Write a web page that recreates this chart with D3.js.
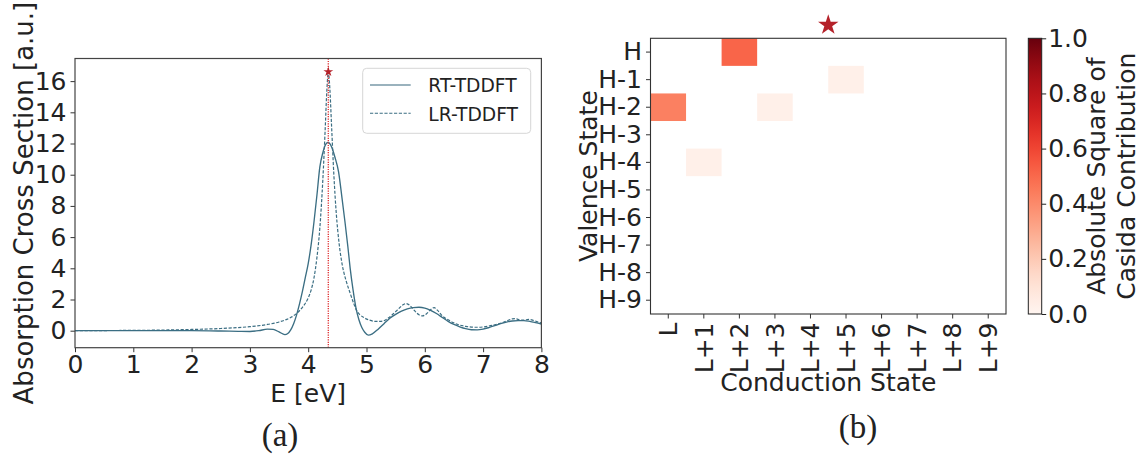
<!DOCTYPE html>
<html>
<head>
<meta charset="utf-8">
<script src="https://cdn.jsdelivr.net/npm/d3@7"></script>
<style>
  html, body { margin: 0; padding: 0; background: #fff; }
  svg { display: block; }
  text { font-family: "DejaVu Sans", sans-serif; fill: #222; }
</style>
</head>
<body>
<svg id="fig" width="1145" height="457"></svg>
<script>
// ---- Panel (a): absorption spectra ----
const rtEnergy = [0, 0.5, 1.0, 1.5, 2.0, 2.5, 2.8, 3.0, 3.15, 3.3, 3.4, 3.5, 3.6, 3.65, 3.7, 3.75, 3.8, 3.85, 3.9, 3.95,
  4.0, 4.05, 4.1, 4.15, 4.2, 4.25, 4.3, 4.34, 4.38, 4.42, 4.46, 4.52, 4.58, 4.63, 4.68, 4.72, 4.77, 4.82, 4.87, 4.92,
  4.97, 5.03, 5.1, 5.2, 5.3, 5.4, 5.5, 5.6, 5.7, 5.8, 5.9, 6.0, 6.1, 6.2, 6.3, 6.4, 6.5, 6.6, 6.7, 6.8,
  6.9, 7.0, 7.1, 7.2, 7.3, 7.4, 7.5, 7.6, 7.7, 7.8, 7.9, 8.0];
const rtCross = [0, 0, 0, 0, 0, -0.02, -0.04, -0.05, 0.0, 0.1, 0.08, -0.08, -0.25, -0.18, 0.05, 0.45, 1.0, 1.7, 2.5, 3.4,
  4.3, 5.5, 7.0, 8.7, 10.5, 11.4, 11.95, 12.07, 11.95, 11.6, 11.1, 10.2, 8.5, 7.0, 5.4, 4.0, 2.6, 1.45, 0.7, 0.2,
  -0.1, -0.28, -0.2, 0.1, 0.45, 0.8, 1.05, 1.25, 1.4, 1.48, 1.5, 1.45, 1.3, 1.1, 0.85, 0.6, 0.4, 0.25, 0.13, 0.06,
  0.05, 0.1, 0.2, 0.32, 0.45, 0.55, 0.62, 0.65, 0.65, 0.6, 0.52, 0.43];

const lrEnergy = [0, 0.5, 1.0, 1.5, 2.0, 2.5, 3.0, 3.3, 3.5, 3.7, 3.8, 3.9, 4.0, 4.05, 4.1, 4.15, 4.2, 4.25, 4.29, 4.32,
  4.345, 4.37, 4.4, 4.44, 4.48, 4.53, 4.58, 4.65, 4.72, 4.78, 4.83, 4.88, 4.95, 5.05, 5.15, 5.25, 5.35, 5.45, 5.55, 5.62,
  5.68, 5.75, 5.82, 5.9, 5.96, 6.03, 6.1, 6.16, 6.22, 6.3, 6.4, 6.5, 6.6, 6.7, 6.8, 6.9, 7.0, 7.1, 7.2, 7.3,
  7.4, 7.5, 7.55, 7.62, 7.7, 7.78, 7.85, 7.92, 8.0];
const lrCross = [0, 0.01, 0.02, 0.04, 0.08, 0.14, 0.26, 0.4, 0.56, 0.85, 1.1, 1.5, 2.1, 2.6, 3.4, 4.7, 6.6, 9.6, 12.8, 15.4,
  16.6, 15.6, 13.2, 10.0, 7.6, 5.6, 4.3, 3.2, 2.4, 1.75, 1.3, 1.05, 0.85, 0.68, 0.6, 0.6, 0.75, 1.05, 1.4, 1.65,
  1.74, 1.6, 1.3, 1.02, 0.95, 1.08, 1.35, 1.48, 1.3, 0.95, 0.7, 0.5, 0.36, 0.28, 0.23, 0.22, 0.24, 0.3, 0.38, 0.48,
  0.62, 0.76, 0.78, 0.7, 0.68, 0.72, 0.68, 0.58, 0.5];

const peakEnergy = 4.345;
const peakCross = 16.6;
const energyTicks = [0, 1, 2, 3, 4, 5, 6, 7, 8];
const crossTicks = [0, 2, 4, 6, 8, 10, 12, 14, 16];
const seriesNames = ["RT-TDDFT", "LR-TDDFT"];

// ---- Panel (b): Casida transition weights ----
const valenceStates = ["H", "H-1", "H-2", "H-3", "H-4", "H-5", "H-6", "H-7", "H-8", "H-9"];
const conductionStates = ["L", "L+1", "L+2", "L+3", "L+4", "L+5", "L+6", "L+7", "L+8", "L+9"];
// rows: valence state, columns: conduction state
const casidaWeights = [
  [0, 0, 0.51, 0, 0, 0, 0, 0, 0, 0],
  [0, 0, 0, 0, 0, 0.03, 0, 0, 0, 0],
  [0.43, 0, 0, 0.03, 0, 0, 0, 0, 0, 0],
  [0, 0, 0, 0, 0, 0, 0, 0, 0, 0],
  [0, 0.03, 0, 0, 0, 0, 0, 0, 0, 0],
  [0, 0, 0, 0, 0, 0, 0, 0, 0, 0],
  [0, 0, 0, 0, 0, 0, 0, 0, 0, 0],
  [0, 0, 0, 0, 0, 0, 0, 0, 0, 0],
  [0, 0, 0, 0, 0, 0, 0, 0, 0, 0],
  [0, 0, 0, 0, 0, 0, 0, 0, 0, 0]
];
const markerColumn = 4.5;   // star position in column index units
const markerRow = -1;       // one row above the top of the map
const colorTicks = [0, 0.2, 0.4, 0.6, 0.8, 1.0];

const svg = d3.select("#fig");
const FONT = 25;
const lineColor = "#3b6e83";
const starColor = "#b5222a";

// ================= Panel (a) =================
const A = { left: 75, right: 541.4, top: 58.5, bottom: 347.7 };
const x = d3.scaleLinear([0, 8], [A.left, A.right]);
const y = d3.scaleLinear([-1.09, 17.45], [A.bottom, A.top]);

const gA = svg.append("g");
gA.append("clipPath").attr("id", "clipA").append("rect")
  .attr("x", A.left).attr("y", A.top).attr("width", A.right - A.left).attr("height", A.bottom - A.top);

const line = d3.line().x(d => x(d[0])).y(d => y(d[1])).curve(d3.curveMonotoneX);
const rtData = rtEnergy.map((e, i) => [e, rtCross[i]]);
const lrData = lrEnergy.map((e, i) => [e, lrCross[i]]);

const plot = gA.append("g").attr("clip-path", "url(#clipA)");
plot.append("path").datum(rtData).attr("d", line)
  .attr("fill", "none").attr("stroke", lineColor).attr("stroke-width", 1.35);
plot.append("path").datum(lrData).attr("d", line)
  .attr("fill", "none").attr("stroke", lineColor).attr("stroke-width", 1.2)
  .attr("stroke-dasharray", "3.2,1.6");
plot.append("line")
  .attr("x1", x(peakEnergy)).attr("x2", x(peakEnergy))
  .attr("y1", A.top).attr("y2", A.bottom)
  .attr("stroke", "#e0393b").attr("stroke-width", 1.4).attr("stroke-dasharray", "1.2,1.2");
gA.append("path")
  .attr("d", d3.symbol(d3.symbolStar, 30)())
  .attr("transform", `translate(${x(peakEnergy)},${y(peakCross)})`)
  .attr("fill", starColor);

// axes
const xAxisA = d3.axisBottom(x).tickValues(energyTicks).tickFormat(d3.format("d"))
  .tickSize(4.5).tickPadding(3).tickSizeOuter(0);
const yAxisA = d3.axisLeft(y).tickValues(crossTicks).tickFormat(d3.format("d"))
  .tickSize(4.5).tickPadding(4).tickSizeOuter(0);
const gx = gA.append("g").attr("transform", `translate(0,${A.bottom})`).call(xAxisA);
const gy = gA.append("g").attr("transform", `translate(${A.left},0)`).call(yAxisA);
[gx, gy].forEach(g => {
  g.select(".domain").remove();
  g.selectAll(".tick line").attr("stroke", "#333").attr("stroke-width", 1);
  g.selectAll(".tick text").attr("font-size", FONT).attr("font-family", "DejaVu Sans").attr("fill", "#222");
});
gA.append("rect")
  .attr("x", A.left).attr("y", A.top).attr("width", A.right - A.left).attr("height", A.bottom - A.top)
  .attr("fill", "none").attr("stroke", "#444").attr("stroke-width", 1.2);

gA.append("text").text("E [eV]")
  .attr("x", (A.left + A.right) / 2).attr("y", 402)
  .attr("text-anchor", "middle").attr("font-size", FONT);
gA.append("text").text("Absorption Cross Section [a.u.]")
  .attr("transform", `translate(33,${(A.top + A.bottom) / 2}) rotate(-90)`)
  .attr("text-anchor", "middle").attr("font-size", 26);

// legend
const leg = gA.append("g");
leg.append("rect").attr("x", 362.7).attr("y", 68.3).attr("width", 168).attr("height", 65)
  .attr("rx", 4).attr("fill", "#fff").attr("fill-opacity", 0.8)
  .attr("stroke", "#d6d6d6").attr("stroke-width", 1);
seriesNames.forEach((name, i) => {
  const ly = 85 + i * 28.3;
  leg.append("line").attr("x1", 370).attr("x2", 410.7).attr("y1", ly).attr("y2", ly)
    .attr("stroke", i === 0 ? "#9ab2bd" : lineColor)
    .attr("stroke-width", i === 0 ? 2.2 : 1.1)
    .attr("stroke-dasharray", i === 0 ? null : "3.2,1.6");
  leg.append("text").text(name).attr("x", 428.3).attr("y", ly + 7.2)
    .attr("font-size", 18.7);
});

svg.append("text").text("(a)")
  .attr("x", 280).attr("y", 446)
  .attr("text-anchor", "middle")
  .style("font-family", "'Liberation Serif', 'DejaVu Serif', serif")
  .attr("font-size", 33);

// ================= Panel (b) =================
const B = { left: 650.5, right: 1006, top: 38.3, bottom: 314 };
const xb = d3.scaleBand(conductionStates, [B.left, B.right]);
const yb = d3.scaleBand(valenceStates, [B.top, B.bottom]);
const xIdx = d3.scaleLinear([-0.5, conductionStates.length - 0.5], [B.left, B.right]);
const yIdx = d3.scaleLinear([-0.5, valenceStates.length - 0.5], [B.top, B.bottom]);
const color = d3.scaleSequential(d3.interpolateReds).domain([0, 1]);

const gB = svg.append("g");
const cells = [];
casidaWeights.forEach((row, r) => row.forEach((w, c) => {
  if (w > 0) cells.push({ v: valenceStates[r], c: conductionStates[c], w });
}));
gB.selectAll("rect.cell").data(cells).join("rect").attr("class", "cell")
  .attr("x", d => xb(d.c)).attr("y", d => yb(d.v))
  .attr("width", xb.bandwidth()).attr("height", yb.bandwidth())
  .attr("fill", d => color(d.w));

gB.append("rect")
  .attr("x", B.left).attr("y", B.top).attr("width", B.right - B.left).attr("height", B.bottom - B.top)
  .attr("fill", "none").attr("stroke", "#333").attr("stroke-width", 1.1);

gB.append("path")
  .attr("d", d3.symbol(d3.symbolStar, 130)())
  .attr("transform", `translate(${xIdx(markerColumn)},${yIdx(markerRow) + 0.5})`)
  .attr("fill", starColor);

const xAxisB = d3.axisBottom(xb).tickSize(4.5).tickPadding(4).tickSizeOuter(0);
const yAxisB = d3.axisLeft(yb).tickSize(4.5).tickPadding(4).tickSizeOuter(0);
const gxb = gB.append("g").attr("transform", `translate(0,${B.bottom})`).call(xAxisB);
const gyb = gB.append("g").attr("transform", `translate(${B.left},0)`).call(yAxisB);
[gxb, gyb].forEach(g => {
  g.select(".domain").remove();
  g.selectAll(".tick line").attr("stroke", "#333").attr("stroke-width", 1);
  g.selectAll(".tick text").attr("font-size", FONT).attr("font-family", "DejaVu Sans").attr("fill", "#222");
});
gxb.selectAll(".tick text")
  .attr("transform", "rotate(-90)")
  .attr("x", -8.5).attr("y", 0).attr("dy", "0.35em")
  .attr("text-anchor", "end");

gB.append("text").text("Conduction State")
  .attr("x", (B.left + B.right) / 2).attr("y", 391)
  .attr("text-anchor", "middle").attr("font-size", FONT);
gB.append("text").text("Valence State")
  .attr("transform", `translate(597,${(B.top + B.bottom) / 2}) rotate(-90)`)
  .attr("text-anchor", "middle").attr("font-size", FONT);

// colorbar
const CB = { left: 1028.3, right: 1041.7, top: B.top, bottom: B.bottom };
const defs = svg.append("defs");
const grad = defs.append("linearGradient").attr("id", "redsGrad")
  .attr("x1", 0).attr("y1", 1).attr("x2", 0).attr("y2", 0);
d3.range(0, 1.0001, 0.05).forEach(t => {
  grad.append("stop").attr("offset", t).attr("stop-color", color(t));
});
gB.append("rect").attr("x", CB.left).attr("y", CB.top)
  .attr("width", CB.right - CB.left).attr("height", CB.bottom - CB.top)
  .attr("fill", "url(#redsGrad)").attr("stroke", "#222").attr("stroke-width", 1);
const cbScale = d3.scaleLinear([0, 1], [CB.bottom, CB.top]);
const gcb = gB.append("g").attr("transform", `translate(${CB.right},0)`)
  .call(d3.axisRight(cbScale).tickValues(colorTicks).tickFormat(d3.format(".1f"))
    .tickSize(4.5).tickPadding(2).tickSizeOuter(0));
gcb.select(".domain").remove();
gcb.selectAll(".tick line").attr("stroke", "#222");
gcb.selectAll(".tick text").attr("font-size", FONT).attr("font-family", "DejaVu Sans").attr("fill", "#222");

const cbLabel = gB.append("text")
  .attr("transform", `translate(1105,${(CB.top + CB.bottom) / 2}) rotate(-90)`)
  .attr("text-anchor", "middle").attr("font-size", FONT);
cbLabel.append("tspan").attr("x", 0).attr("y", 0).text("Absolute Square of");
cbLabel.append("tspan").attr("x", 0).attr("y", 30).text("Casida Contribution");

svg.append("text").text("(b)")
  .attr("x", 858).attr("y", 438)
  .attr("text-anchor", "middle")
  .style("font-family", "'Liberation Serif', 'DejaVu Serif', serif")
  .attr("font-size", 33);
</script>
</body>
</html>
